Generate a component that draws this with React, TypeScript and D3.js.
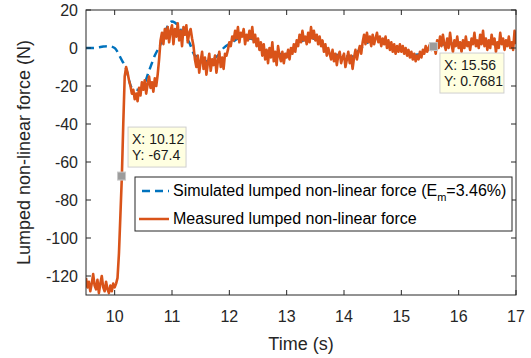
import * as d3 from 'd3';

// simulated force (smooth), sampled irregularly
const simTime = [9.5, 9.6, 9.7, 9.8, 9.9, 10.0, 10.05, 10.1, 10.2, 10.3, 10.4, 10.5, 10.6, 10.7, 10.8, 10.9, 11.0, 11.1, 11.2, 11.3, 11.4, 11.5, 11.6, 11.7, 11.8, 11.9, 12.05, 12.15, 12.25, 12.35, 12.45, 12.55, 12.65, 12.75, 12.85, 12.95, 13.05, 13.15, 13.25, 13.35, 13.45, 13.55, 13.65, 13.75, 13.85, 13.95, 14.05, 14.15, 14.25, 14.35, 14.45, 14.55, 14.65, 14.75, 14.85, 14.95, 15.05, 15.15, 15.25, 15.35, 15.45, 15.55, 15.65, 15.75, 15.85, 15.95, 16.05, 16.15, 16.25, 16.35, 16.45, 16.55, 16.65, 16.75, 16.85, 16.95, 17.0];
const simForce = [0, 0, 0.2, 0.8, 1, 0, -2, -5, -11, -21, -22, -20, -12, -4, 2, 10, 14, 12, 7, 3, -4, -5, -7, -6, -4, 0, 3, 5, 5.5, 5, 4, 1, -2, -2.5, -3, -3.5, -2, 0.5, 3.5, 4.5, 5, 4, 1, -2, -3.5, -4, -4.5, -4.5, -1.5, 1.5, 3.5, 4, 3, 2, 0.5, -0.5, -1.5, -3, -3.5, -3, -1, 0.5, 1.5, 2, 2.5, 2, 1.5, 2, 2.5, 2.5, 3, 2.5, 2, 2.5, 2.5, 2.5, 2];

// measured force, sampled every 0.025 s from 9.5 s
const measStart = 9.5;
const measStep = 0.025;
const measForce = [
  -121, -126, -123, -128, -124, -119, -125, -127, -122, -129, -124, -120, -126, -128, -123, -127, -129, -125, -128, -124,
  -126, -124, -121, -108, -88, -68, -40, -15, -10, -13, -17, -20, -24, -22, -27, -24, -28, -21, -25, -18,
  -22, -17, -24, -19, -15, -21, -18, -23, -16, -20, -14, -6, 4, 8, 2, 10, 5, 11, 3, 9,
  12, 2, 10, 6, 13, 4, 9, 1, 11, 7, 12, 3, 8, 10, 5, 1, -6, -10, -4, -13,
  -7, -2, -11, -5, -14, -8, -3, -12, -6, -9, -4, -13, -7, -2, -10, -5, -11, -3, -4, -1,
  3, 1, 6, 4, 9, 5, 11, 3, 8, 6, 10, 2, 7, 4, 9, 5, 11, 3, 7, 1,
  5, -1, 3, -4, 2, -6, -1, -8, 0, -5, 3, -7, -2, -9, 1, -4, -7, -2, -8, -3,
  -5, -1, -6, 0, -3, 2, -2, 4, 1, 7, 3, 9, 4, 6, 2, 8, 3, 11, 5, 9,
  4, 7, 2, 6, 1, 4, -2, 2, -4, 0, -3, -6, -1, -7, -3, -9, -4, -2, -8, -5,
  -3, -10, -6, -2, -8, -4, -11, -5, -1, -6, -2, 1, -3, 3, 7, 2, 8, 3, 6, 1,
  7, 2, 5, 8, 3, 6, 1, 5, 2, 6, 0, 4, -1, 3, -2, 2, -3, 1, -2, 2,
  -2, 1, -3, 0, -4, -1, -5, -2, -6, -3, -7, -4, -6, -2, -5, -1, -3, 1, -2, 0,
  2, -1, 1, 0.5, -3, 4, 0, 6, 1, 7, 2, -1, 5, 0, 8, 2, -2, 4, 1, 6,
  0, 3, -2, 4, 0, 6, 1, 3, -1, 5, 2, 8, 1, 4, 0, 7, 2, 9, 1, 5,
  -1, 4, 0, 7, 2, 5, -2, 3, 0, 8, 2, 5, -1, 4, 1, 6, 0, 3, -1, 9,
  2,
];

const xTicks = [10, 11, 12, 13, 14, 15, 16, 17];
const yTicks = [20, 0, -20, -40, -60, -80, -100, -120];

const tipX = [10.12, 15.56];
const tipY = [-67.4, 0.7681];
const tipLabels = [['X: 10.12', 'Y: -67.4'], ['X: 15.56', 'Y: 0.7681']];

const seriesNames = ['Simulated lumped non-linear force (E', 'Measured lumped non-linear force'];

const W = 531;
const H = 358;
const margin = { left: 86, right: 15, top: 10, bottom: 63 };
const BLUE = '#0072BD';
const ORANGE = '#D95319';
const AXIS = '#262626';
const FONT = '"Liberation Sans", Arial, Helvetica, sans-serif';

// tooltip box placement relative to marker: [dx, dy, width]
const tipLayout = [
  [6.5, -49, 58],
  [6.5, 6.5, 64],
];

export default function App() {
  const x = d3.scaleLinear().domain([9.5, 17]).range([margin.left, W - margin.right]);
  const y = d3.scaleLinear().domain([-130, 20]).range([H - margin.bottom, margin.top]);
  const [x0, x1] = x.range();
  const [y0, y1] = [y(20), y(-130)];

  const simData = simTime.map((t, i) => [t, simForce[i]] as [number, number]);
  const measData = measForce.map((v, i) => [measStart + i * measStep, v] as [number, number]);
  const line = d3.line<[number, number]>().x(d => x(d[0])).y(d => y(d[1]));
  const smooth = d3.line<[number, number]>().x(d => x(d[0])).y(d => y(d[1])).curve(d3.curveMonotoneX);

  return (
    <svg width={W} height={H} style={{ position: 'absolute', left: 0, top: 0, background: '#fff' }} fontFamily={FONT}>
      <defs>
        <clipPath id="plotArea">
          <rect x={x0} y={y0} width={x1 - x0} height={y1 - y0} />
        </clipPath>
      </defs>
      <rect x={0} y={0} width={W} height={H} fill="#fff" />

      <g clipPath="url(#plotArea)">
        <path d={smooth(simData) || ''} fill="none" stroke={BLUE} strokeWidth={2.5} strokeDasharray="8,5" />
        <path d={line(measData) || ''} fill="none" stroke={ORANGE} strokeWidth={2.6} strokeLinejoin="round" />
      </g>

      {/* axes box */}
      <rect x={x0} y={y0} width={x1 - x0} height={y1 - y0} fill="none" stroke={AXIS} strokeWidth={1} />
      {xTicks.map(t => (
        <g key={'x' + t}>
          <line x1={x(t)} x2={x(t)} y1={y1} y2={y1 - 5} stroke={AXIS} />
          <line x1={x(t)} x2={x(t)} y1={y0} y2={y0 + 5} stroke={AXIS} />
          <text x={x(t)} y={322} textAnchor="middle" fontSize={16} fill={AXIS}>{t}</text>
        </g>
      ))}
      {yTicks.map(t => (
        <g key={'y' + t}>
          <line x1={x0} x2={x0 + 5} y1={y(t)} y2={y(t)} stroke={AXIS} />
          <line x1={x1} x2={x1 - 5} y1={y(t)} y2={y(t)} stroke={AXIS} />
          <text x={78} y={y(t)} dy="0.36em" textAnchor="end" fontSize={16} fill={AXIS}>{t}</text>
        </g>
      ))}
      <text x={(x0 + x1) / 2} y={350} textAnchor="middle" fontSize={18} fill={AXIS}>Time (s)</text>
      <text transform={`translate(30,${(y0 + y1) / 2}) rotate(-90)`} textAnchor="middle" fontSize={18} fill={AXIS}>
        Lumped non-linear force (N)
      </text>

      {/* data tips */}
      {tipX.map((tx, i) => {
        const mx = x(tx);
        const my = y(tipY[i]);
        const [dx, dy, bw] = tipLayout[i];
        return (
          <g key={'tip' + i}>
            <rect x={mx - 4} y={my - 4} width={8} height={8} fill="#9c9c9c" stroke="#c8c8c8" strokeWidth={1} />
            <rect x={mx + dx} y={my + dy} width={bw} height={40} fill="#ffffe1" stroke="#cfcfcf" strokeWidth={1} />
            {tipLabels[i].map((s, j) => (
              <text key={j} x={mx + dx + 4} y={my + dy + 17 + j * 16} fontSize={14} fill="#1a1a1a">{s}</text>
            ))}
          </g>
        );
      })}

      {/* legend */}
      <g>
        <rect x={135} y={177} width={377} height={54} fill="#fff" stroke={AXIS} strokeWidth={1} />
        <line x1={139} x2={169} y1={191} y2={191} stroke={BLUE} strokeWidth={2.5} strokeDasharray="8,5" strokeDashoffset={-3} />
        <line x1={139} x2={169} y1={219} y2={219} stroke={ORANGE} strokeWidth={2.5} />
        <text x={173} y={196} fontSize={16} fill="#000">
          {seriesNames[0]}
          <tspan dy={5} fontSize={11}>m</tspan>
          <tspan dy={-5}>=3.46%)</tspan>
        </text>
        <text x={173} y={224} fontSize={16} fill="#000">{seriesNames[1]}</text>
      </g>
    </svg>
  );
}
